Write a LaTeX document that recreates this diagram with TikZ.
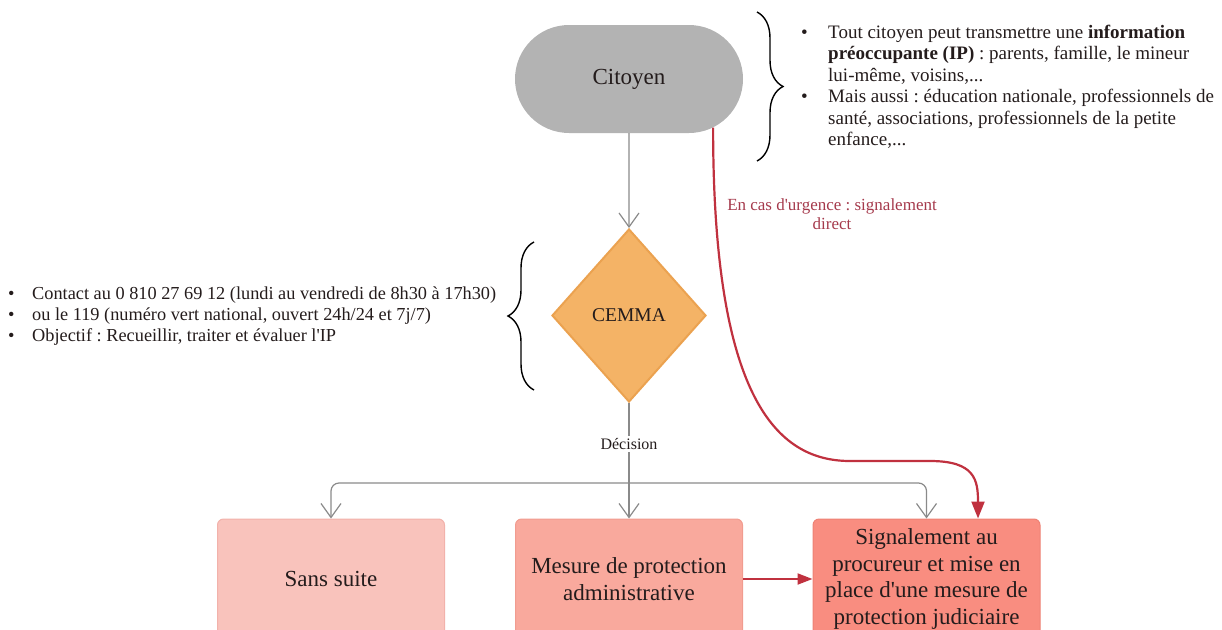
\documentclass[tikz,border=0pt]{standalone}
\usepackage{fontspec}
\setmainfont{Liberation Serif}
\frenchspacing
\usetikzlibrary{arrows.meta,shapes.geometric,shapes.misc,calc,decorations.pathreplacing}
\newcommand{\apos}{\textquotesingle}
\definecolor{citgray}{HTML}{B3B3B3}
\definecolor{cemfill}{HTML}{F4B366}
\definecolor{cemdraw}{HTML}{EBA250}
\definecolor{sansfill}{HTML}{F9C3BC}
\definecolor{sansdraw}{HTML}{F2B2AB}
\definecolor{mesfill}{HTML}{F9A99D}
\definecolor{mesdraw}{HTML}{F19C90}
\definecolor{sigfill}{HTML}{F98D80}
\definecolor{sigdraw}{HTML}{EE8275}
\definecolor{redline}{HTML}{C0313F}
\definecolor{redtext}{HTML}{A53A4C}
\definecolor{txt}{HTML}{241C1C}
\definecolor{conn}{HTML}{8A8A8A}
\tikzset{
  outbox/.style={rectangle, rounded corners=6pt, minimum width=227pt, minimum height=120pt,
    inner sep=0pt, align=center, text=txt, font=\fontsize{23}{26.7}\selectfont, line width=1pt},
  grayline/.style={draw=conn, line width=1.2pt},
  grayarrow/.style={grayline, -{Straight Barb[length=14pt,width=20pt]}},
  redarrow/.style={draw=redline, line width=2.2pt, -{Triangle[length=17pt,width=13pt]}},
  bracestyle/.style={draw=black, line width=1.4pt, decorate, decoration={brace, amplitude=26pt}},
  bullets/.style={anchor=north west, inner sep=0pt, text=txt, align=left}
}
\begin{document}
\begin{tikzpicture}[x=1pt,y=-1pt]
\useasboundingbox (0,0) rectangle (1222,629);

% main nodes
\node[rounded rectangle, fill=citgray, minimum width=228pt, minimum height=108pt, inner sep=0pt,
  text=txt, font=\fontsize{23}{26}\selectfont] (cit) at (629,79) {Citoyen};
\node[diamond, fill=cemfill, draw=cemdraw, line width=2pt, minimum width=154pt, minimum height=173pt,
  inner sep=0pt, text=txt, font=\fontsize{19.5}{22}\selectfont] (cem) at (629,315.5) {CEMMA};

\node[outbox, fill=sansfill, draw=sansdraw] (sans) at (331,579) {Sans suite};
\node[outbox, fill=mesfill, draw=mesdraw] (mes) at (629,579) {Mesure de protection\\administrative};
\node[outbox, fill=sigfill, draw=sigdraw] (sig) at (926.5,579) {Signalement au\\procureur et mise en\\place d\apos une mesure de\\protection judiciaire};

% text blocks
\node[bullets, font=\fontsize{19}{21.5}\selectfont] (topnote) at (801,23) {%
\begin{tabular}{@{}p{27pt}@{}l@{}}
\textbullet & Tout citoyen peut transmettre une \textbf{information}\\
 & \textbf{préoccupante (IP)} : parents, famille, le mineur\\
 & lui-même, voisins,...\\
\textbullet & Mais aussi : éducation nationale, professionnels de\\
 & santé, associations, professionnels de la petite\\
 & enfance,...
\end{tabular}};

\node[bullets, font=\fontsize{18.3}{20.7}\selectfont] (leftnote) at (8,285) {%
\begin{tabular}{@{}p{24pt}@{}l@{}}
\textbullet & Contact au 0 810 27 69 12 (lundi au vendredi de 8h30 à 17h30)\\
\textbullet & ou le 119 (numéro vert national, ouvert 24h/24 et 7j/7)\\
\textbullet & Objectif : Recueillir, traiter et évaluer l\apos IP
\end{tabular}};

% braces
\coordinate (b1t) at (757,12);
\coordinate (b1b) at (757,161);
\draw[bracestyle] (b1t) -- (b1b);
\coordinate (b2t) at (534,242);
\coordinate (b2b) at (534,390);
\draw[bracestyle] (b2b) -- (b2t);

% connectors
\draw[grayarrow] (cit) -- (cem);
\coordinate (bar) at (629,483);
\draw[grayline] (cem.south) -- (bar);
\node[fill=white, inner sep=2pt, text=txt, font=\fontsize{16}{18}\selectfont] (dec) at (629,444) {Décision};
\draw[grayarrow] (bar) -- (mes.north);
\draw[grayarrow, rounded corners=8pt] (bar) -| (sans.north);
\draw[grayarrow, rounded corners=8pt] (bar) -| (sig.north);

\draw[draw=redline, line width=2pt, -{Triangle[length=15pt,width=11pt]}] (mes.east) -- (sig.west);

\coordinate (sigtip) at ($(sig.north)+(51.5,0)$);
\draw[redarrow] (cit.-30) .. controls (713,395) and (775,461) .. (850,461)
  -- (930,461) .. controls (975,461) and (978,480) .. (sigtip);

\node[text=redtext, align=center, font=\fontsize{17}{19}\selectfont] (urg) at (832,214)
  {En cas d\apos urgence : signalement\\direct};
\end{tikzpicture}
\end{document}
